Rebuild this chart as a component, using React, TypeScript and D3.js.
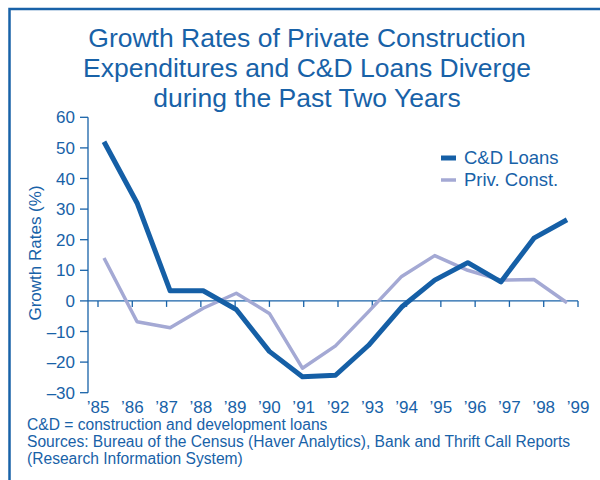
import React from 'react';
import * as d3 from 'd3';

const years = ['’85', '’86', '’87', '’88', '’89', '’90', '’91', '’92', '’93', '’94', '’95', '’96', '’97', '’98', '’99'];
const cdLoans = [52, 32, 3.3, 3.3, -2.8, -16.5, -24.8, -24.3, -14.5, -2, 6.8, 12.5, 6.2, 20.5, 26.5];
const privConst = [14, -6.8, -8.8, -2.4, 2.5, -4.1, -22, -14.7, -3.5, 8, 14.8, 10, 6.8, 7, -0.6];
const yTicks = [60, 50, 40, 30, 20, 10, 0, -10, -20, -30];
const titleLines = [
  'Growth Rates of Private Construction',
  'Expenditures and C&D Loans Diverge',
  'during the Past Two Years',
];
const notes = [
  'C&D = construction and development loans',
  'Sources: Bureau of the Census (Haver Analytics), Bank and Thrift Call Reports',
  '(Research Information System)',
];

const BLUE = '#1862a8';
const DARK = '#155fa6';
const LIGHT = '#a4a9d4';
const FONT = '"Liberation Sans", Arial, sans-serif';

export default function App() {
  const width = 600;
  const height = 480;
  const axisX = 88;

  const y = d3.scaleLinear().domain([-30, 60]).range([392.7, 117.3]);
  // data points and the year ticks do not line up exactly in the original
  const xData = d3.scalePoint<string>().domain(years).range([104, 567]);
  const xTick = d3.scalePoint<string>().domain(years).range([98, 578]);

  const line = d3
    .line<number>()
    .x((_, i) => xData(years[i]) as number)
    .y((d) => y(d));

  const fmt = (v: number) => (v < 0 ? '–' + Math.abs(v) : String(v));

  return (
    <svg width={width} height={height} style={{ position: 'absolute', left: 0, top: 0, background: '#fff' }}>
      <path d="M9.5,610 V9 H700" fill="none" stroke={BLUE} strokeWidth={2.5} />

      <g fontFamily={FONT} fill={BLUE} fontSize={26.5} textAnchor="middle">
        {titleLines.map((t, i) => (
          <text key={t} x={307} y={47 + i * 30}>
            {t}
          </text>
        ))}
      </g>

      {/* y axis */}
      <g fontFamily={FONT} fontSize={17} fill={BLUE}>
        <line x1={axisX} x2={axisX} y1={y(60)} y2={y(-30)} stroke={BLUE} strokeWidth={1.3} />
        {yTicks.map((t) => (
          <g key={t}>
            <line x1={axisX - 8} x2={axisX} y1={y(t)} y2={y(t)} stroke={BLUE} strokeWidth={1.3} />
            <text x={75} y={y(t) + 6} textAnchor="end">
              {fmt(t)}
            </text>
          </g>
        ))}
        <text transform={`translate(41,253) rotate(-90)`} textAnchor="middle" fontSize={17}>
          Growth Rates (%)
        </text>
      </g>

      {/* x axis on zero line */}
      <g fontFamily={FONT} fontSize={17} fill={BLUE}>
        <line x1={axisX} x2={xTick(years[years.length - 1])} y1={y(0)} y2={y(0)} stroke={BLUE} strokeWidth={1.3} />
        {years.map((yr) => (
          <g key={yr}>
            <line x1={xTick(yr)} x2={xTick(yr)} y1={y(0)} y2={y(0) + 6} stroke={BLUE} strokeWidth={1.3} />
            <text x={xTick(yr)} y={413} textAnchor="middle">
              {yr}
            </text>
          </g>
        ))}
      </g>

      <path d={line(privConst) || ''} fill="none" stroke={LIGHT} strokeWidth={3.5} strokeLinejoin="round" />
      <path d={line(cdLoans) || ''} fill="none" stroke={DARK} strokeWidth={5} strokeLinejoin="round" />

      {/* legend */}
      <g fontFamily={FONT} fontSize={18.5} fill={BLUE}>
        <line x1={441} x2={456} y1={158} y2={158} stroke={DARK} strokeWidth={5} />
        <text x={464} y={164}>C&amp;D Loans</text>
        <line x1={441} x2={456} y1={180} y2={180} stroke={LIGHT} strokeWidth={3.5} />
        <text x={464} y={186}>Priv. Const.</text>
      </g>

      <g fontFamily={FONT} fontSize={15.6} fill={BLUE}>
        {notes.map((n, i) => (
          <text key={n} x={27} y={430 + i * 17}>
            {n}
          </text>
        ))}
      </g>
    </svg>
  );
}
